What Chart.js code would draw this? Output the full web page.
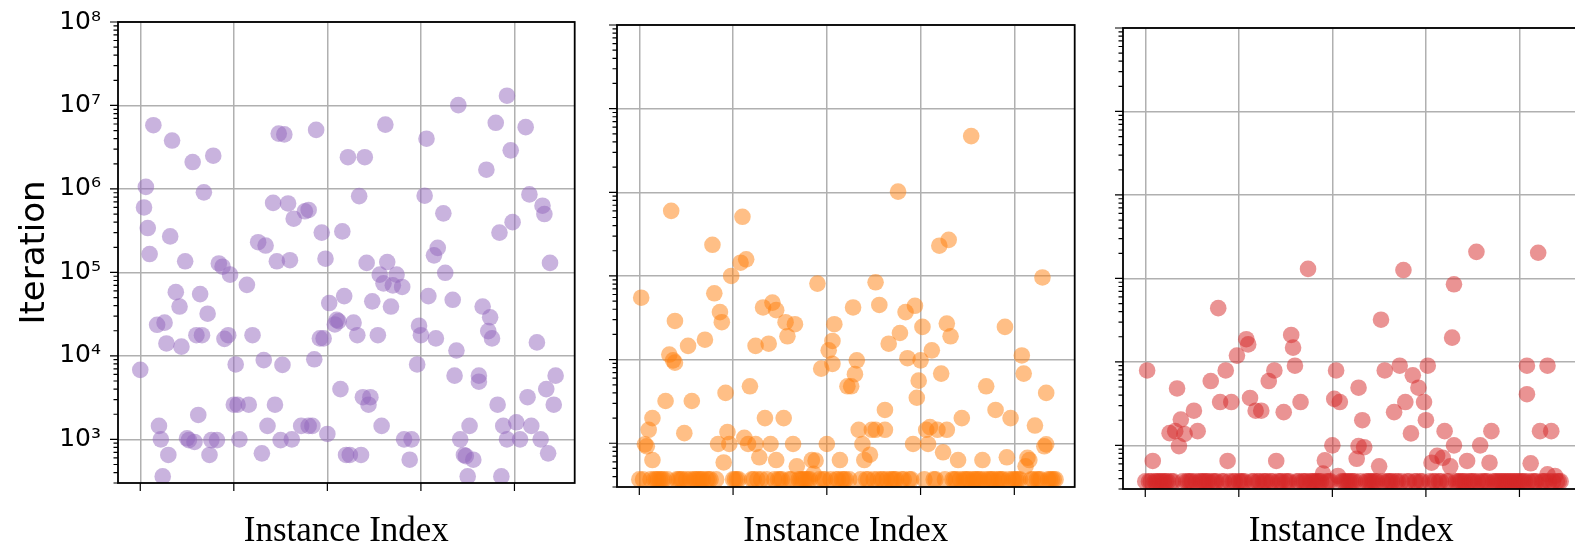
<!DOCTYPE html>
<html>
<head>
<meta charset="utf-8">
<script src="https://cdn.jsdelivr.net/npm/chart.js@4.4.1/dist/chart.umd.min.js"></script>
<style>
  html, body { margin: 0; padding: 0; background: #fff; width: 1575px; height: 546px; overflow: hidden; }
  canvas { position: absolute; top: 0; }
</style>
</head>
<body>
<canvas id="p1" width="583" height="546" style="left:0px"></canvas>
<canvas id="p2" width="476" height="546" style="left:607px"></canvas>
<canvas id="p3" width="475" height="546" style="left:1113px"></canvas>
<script>
// solver A: instance index / iterations
const idxA = [196, 170, 7, 131, 94, 74, 77, 190, 206, 17, 153, 28, 39, 111, 120, 198, 185, 3, 34, 2,
  71, 79, 88, 90, 82, 117, 152, 208, 162, 215, 216, 199, 192, 4, 16, 97, 108, 63, 67, 5,
  24, 42, 44, 73, 80, 99, 121, 132, 159, 157, 219, 163,
  48, 57, 128, 137, 130, 135, 140, 19, 32, 21, 36, 9, 13, 14, 22, 30, 33, 45,
  47, 60, 101, 109, 105, 104, 106, 114, 124, 134, 116, 127, 96, 98, 93, 154, 167, 149, 150, 158,
  169, 183, 187, 186, 188, 212, 0, 51, 66, 76, 148, 168, 181, 181, 222, 217, 207, 221, 191, 107,
  119, 123, 122, 50, 52, 58, 72, 31, 10, 68, 86, 90, 92, 129, 176, 194, 201, 209, 100, 11,
  25, 26, 29, 38, 41, 53, 75, 81, 141, 145, 171, 196, 203, 214, 15, 37, 65, 110, 112, 118,
  144, 173, 174, 178, 218, 12, 175, 193];
const iterA = [1.31e7, 1.01e7, 5.8e6, 5.9e6, 5.1e6, 4.6e6, 4.5e6, 6.2e6, 5.5e6, 3.8e6, 4.0e6, 2.1e6, 2.5e6, 2.4e6, 2.4e6, 2.9e6, 1.7e6, 1.06e6, 9.1e5, 6.0e5,
  6.8e5, 6.7e5, 5.4e5, 5.6e5, 4.4e5, 8.2e5, 8.3e5, 8.6e5, 5.1e5, 6.3e5, 5.0e5, 4.0e5, 3.0e5, 3.4e5, 2.7e5, 3.0e5, 3.1e5, 2.3e5, 2.1e5, 1.66e5,
  1.36e5, 1.28e5, 1.17e5, 1.36e5, 1.4e5, 1.46e5, 1.3e5, 1.33e5, 1.97e5, 1.6e5, 1.3e5, 9.9e4,
  9.4e4, 7.1e4, 9.4e4, 9.4e4, 7.4e4, 7.0e4, 6.7e4, 5.8e4, 5.5e4, 3.9e4, 3.2e4, 2.36e4, 2.5e4, 1.41e4, 1.29e4, 1.77e4, 1.77e4, 1.6e4,
  1.77e4, 1.77e4, 4.3e4, 5.2e4, 2.7e4, 2.38e4, 2.6e4, 2.5e4, 4.5e4, 3.9e4, 1.77e4, 1.77e4, 1.62e4, 1.62e4, 9.1e3, 5.2e4, 4.7e4, 2.3e4, 1.77e4, 1.62e4,
  1.16e4, 3.9e4, 2.9e4, 1.98e4, 1.62e4, 1.45e4, 6.8e3, 7.9e3, 8.9e3, 7.8e3, 7.9e3, 5.8e3, 5.8e3, 4.9e3, 5.8e3, 4.0e3, 3.2e3, 2.6e3, 2.6e3, 4.0e3,
  3.2e3, 3.2e3, 2.6e3, 2.6e3, 2.6e3, 2.6e3, 2.6e3, 1.96e3, 1.45e3, 1.45e3, 1.45e3, 1.45e3, 1.45e3, 1.45e3, 1.45e3, 1.45e3, 1.6e3, 1.45e3, 1.16e3, 1.0e3,
  1.03e3, 980, 930, 980, 980, 1.0e3, 980, 1.0e3, 1.0e3, 1.0e3, 1.0e3, 1.0e3, 1.0e3, 1.0e3, 650, 650, 680, 650, 650, 650,
  570, 650, 630, 570, 680, 360, 360, 360];

// solver B
const idxB = [177, 138, 17, 55, 39, 54, 57, 160, 165, 49, 215, 1, 40, 95, 126, 43, 44, 66, 71, 73,
  114, 128, 142, 147, 19, 78, 83, 79, 62, 69, 35, 26, 16, 19, 18, 104, 103, 101, 103, 97,
  116, 115, 111, 113, 133, 139, 143, 151, 150, 156, 149, 148, 161, 164, 166, 195, 204, 205, 217, 185,
  190, 198, 211, 172, 59, 46, 14, 28, 7, 5, 24, 67, 77, 47, 131, 117, 124, 126, 131, 153,
  159, 164, 155, 3, 4, 7, 42, 48, 56, 58, 62, 70, 82, 100, 119, 146, 154, 217, 216, 64,
  73, 45, 84, 92, 94, 107, 120, 123, 162, 170, 183, 196, 208, 206, 207, 93];
const iterB = [4.7e6, 1.02e6, 6.0e5, 5.1e5, 2.36e5, 1.44e5, 1.58e5, 2.3e5, 2.7e5, 1.0e5, 9.6e4, 5.5e4, 6.2e4, 8.1e4, 8.4e4, 3.7e4, 2.8e4, 4.2e4, 4.8e4, 3.9e4,
  4.2e4, 4.5e4, 3.7e4, 4.4e4, 2.9e4, 2.8e4, 2.65e4, 1.9e4, 1.46e4, 1.55e4, 1.73e4, 1.46e4, 1.15e4, 9.2e3, 9.8e3, 2.65e4, 1.67e4, 1.29e4, 8.9e3, 7.8e3,
  9.8e3, 6.7e3, 4.8e3, 4.8e3, 1.55e4, 2.08e4, 1.04e4, 2.46e4, 9.8e3, 1.29e4, 5.6e3, 3.5e3, 6.8e3, 2.7e4, 1.9e4, 2.46e4, 1.12e4, 6.8e3, 4.0e3, 4.8e3,
  2.5e3, 2.0e3, 1.63e3, 2.0e3, 4.8e3, 4.0e3, 3.2e3, 3.2e3, 2.0e3, 1.45e3, 1.32e3, 2.0e3, 2.0e3, 1.36e3, 2.5e3, 1.45e3, 1.45e3, 1.45e3, 1.45e3, 1.45e3,
  1.45e3, 1.45e3, 1.56e3, 970, 920, 630, 980, 980, 1.16e3, 980, 980, 980, 980, 980, 980, 980, 980, 970, 920, 680,
  630, 590, 530, 630, 620, 630, 630, 730, 780, 630, 630, 680, 630, 530, 670, 430];
const floorB = [0, 2, 6, 8, 9, 10, 11, 12, 13, 15, 20, 21, 22, 23, 25, 27, 29, 30, 31, 32,
  33, 34, 36, 37, 38, 41, 50, 51, 52, 53, 60, 61, 63, 65, 68, 72, 74, 75, 76, 80,
  81, 85, 86, 87, 88, 89, 90, 91, 96, 98, 99, 102, 105, 106, 108, 109, 110, 112, 118, 121,
  122, 125, 127, 129, 130, 132, 134, 135, 136, 137, 140, 141, 144, 145, 152, 157, 158, 163, 167, 168,
  169, 171, 173, 174, 175, 176, 178, 179, 180, 181, 182, 184, 186, 187, 188, 189, 191, 192, 193, 194,
  197, 199, 200, 201, 202, 203, 209, 210, 212, 213, 214, 218, 219, 220, 221, 222];

// solver C
const idxC = [177, 210, 87, 138, 165, 39, 126, 164, 78, 54, 55, 79, 49, 80, 1, 17, 35, 43, 40, 46,
  26, 19, 13, 16, 21, 28, 18, 4, 44, 56, 59, 62, 66, 69, 74, 83, 70, 102, 101, 104,
  100, 96, 95, 103, 114, 116, 114, 117, 113, 125, 128, 136, 143, 146, 151, 139, 149, 133, 150, 142,
  160, 165, 156, 159, 153, 163, 172, 179, 185, 184, 204, 215, 204, 211, 217, 206, 215, 219];
const iterC = [2.08e5, 2.03e5, 1.3e5, 1.26e5, 8.5e4, 4.4e4, 3.2e4, 1.95e4, 2.1e4, 1.87e4, 1.62e4, 1.48e4, 1.19e4, 9.0e3, 7.9e3, 4.8e3, 5.9e3, 7.9e3, 3.3e3, 3.3e3,
  2.6e3, 2.04e3, 1.4e3, 1.48e3, 1.37e3, 1.48e3, 980, 650, 650, 3.7e3, 2.6e3, 2.6e3, 5.9e3, 7.9e3, 2.5e3, 3.3e3, 650, 7.9e3, 3.6e3, 3.3e3,
  1.0e3, 660, 460, 430, 4.9e3, 2.0e3, 980, 950, 690, 560, 7.9e3, 9.0e3, 6.9e3, 4.9e3, 9.0e3, 3.3e3, 3.3e3, 2.5e3, 2.0e3, 1.39e3,
  1.48e3, 1.0e3, 750, 710, 620, 560, 650, 1.0e3, 1.48e3, 620, 9.0e3, 9.0e3, 4.1e3, 1.48e3, 1.48e3, 610, 450, 430];
const floorC = [0, 2, 3, 5, 6, 7, 8, 9, 10, 11, 12, 14, 15, 20, 22, 23, 24, 25, 27, 29,
  30, 31, 32, 33, 34, 36, 37, 38, 41, 42, 45, 47, 48, 50, 51, 52, 53, 57, 58, 60,
  61, 63, 64, 65, 67, 68, 71, 72, 73, 75, 76, 77, 81, 82, 84, 85, 86, 88, 89, 90,
  91, 92, 93, 94, 97, 98, 99, 105, 106, 107, 108, 109, 110, 111, 112, 115, 118, 119, 120, 121,
  122, 123, 124, 127, 129, 130, 131, 132, 134, 135, 137, 140, 141, 144, 145, 147, 148, 152, 154, 155,
  157, 158, 161, 162, 166, 167, 168, 169, 170, 171, 173, 174, 175, 176, 178, 180, 181, 182, 183, 186,
  187, 188, 189, 190, 191, 192, 193, 194, 195, 196, 197, 198, 199, 200, 201, 202, 203, 205, 207, 208,
  209, 212, 213, 214, 216, 218, 220, 221, 222];

// iteration count of the instances sitting on the lower limit
const FLOOR_ITER = 370;

const xTicks = [0, 50, 100, 150, 200];
const yMajor = [1e3, 1e4, 1e5, 1e6, 1e7, 1e8];
const SUP = { '0': '\u2070', '1': '\u00b9', '2': '\u00b2', '3': '\u00b3', '4': '\u2074', '5': '\u2075', '6': '\u2076', '7': '\u2077', '8': '\u2078', '9': '\u2079' };

// box around the axes plus outward tick marks (minor ones shorter)
const frame = {
  id: 'frame',
  afterDatasetsDraw(chart) {
    const { ctx, chartArea: a, scales: { x, y } } = chart;
    ctx.save();
    ctx.strokeStyle = '#000';
    ctx.lineWidth = 1.2;
    ctx.beginPath();
    xTicks.forEach(v => {
      const px = x.getPixelForValue(v);
      ctx.moveTo(px, a.bottom);
      ctx.lineTo(px, a.bottom + 8);
    });
    for (let e = 2; e <= 8; e++) {
      for (let m = 1; m < 10; m++) {
        const v = m * Math.pow(10, e);
        if (v < y.min || v > y.max * 1.0001) continue;
        const py = y.getPixelForValue(v);
        ctx.moveTo(a.left, py);
        ctx.lineTo(a.left - (m === 1 ? 8 : 4.5), py);
      }
    }
    ctx.stroke();
    ctx.lineWidth = 1.8;
    ctx.strokeRect(a.left, a.top, a.right - a.left, a.bottom - a.top);
    ctx.restore();
  }
};

function panel(id, xs, ys, floorIdx, color, o) {
  const pts = xs.map((v, i) => ({ x: v, y: ys[i] }))
    .concat(floorIdx.map(v => ({ x: v, y: FLOOR_ITER })));
  return new Chart(id, {
    type: 'scatter',
    data: {
      datasets: [{
        data: pts,
        backgroundColor: color,
        borderWidth: 0,
        pointRadius: 8.3,
        pointHoverRadius: 8.3,
        clip: 0
      }]
    },
    options: {
      responsive: false,
      animation: false,
      devicePixelRatio: 1,
      events: [],
      layout: { padding: { top: o.top, right: 8, bottom: 0, left: 0 } },
      plugins: { legend: { display: false }, tooltip: { enabled: false } },
      scales: {
        x: {
          type: 'linear',
          min: -11.9,
          max: 232.2,
          afterBuildTicks: s => { s.ticks = xTicks.map(v => ({ value: v })); },
          afterFit: s => { s.height = o.xh; s.paddingLeft = 0; s.paddingRight = 0; },
          ticks: { display: false },
          grid: { color: '#b0b0b0', lineWidth: 1.5, drawTicks: false },
          border: { display: false },
          title: {
            display: true,
            text: 'Instance Index',
            color: '#000',
            padding: 0,
            font: { family: "'Liberation Serif', serif", size: 35, lineHeight: 0.8 }
          }
        },
        y: {
          type: 'logarithmic',
          min: 300,
          max: 1e8,
          afterBuildTicks: s => { s.ticks = yMajor.map(v => ({ value: v })); },
          // labels may hang over the top edge; keep the plot box where it is
          afterFit: s => { s.width = o.yw; s.paddingTop = 0; s.paddingBottom = 0; },
          ticks: {
            display: o.labels,
            color: '#000',
            padding: 17,
            font: { family: "'DejaVu Sans', sans-serif", size: 25 },
            callback: v => '10' + String(Math.round(Math.log10(v))).split('').map(d => SUP[d]).join('')
          },
          grid: { color: '#b0b0b0', lineWidth: 1.5, drawTicks: false },
          border: { display: false },
          title: {
            display: o.labels,
            text: 'Iteration',
            color: '#000',
            padding: { top: 18, bottom: 0 },
            font: { family: "'DejaVu Sans', sans-serif", size: 34, lineHeight: 1 }
          }
        }
      }
    },
    plugins: [frame]
  });
}

panel('p1', idxA, iterA, [], 'rgba(148, 103, 189, 0.5)', { top: 22, xh: 63, yw: 118, labels: true });
panel('p2', idxB, iterB, floorB, 'rgba(255, 127, 14, 0.5)', { top: 25, xh: 59, yw: 10, labels: false });
panel('p3', idxC, iterC, floorC, 'rgba(214, 39, 40, 0.5)', { top: 28, xh: 57, yw: 10, labels: false });
</script>
</body>
</html>
